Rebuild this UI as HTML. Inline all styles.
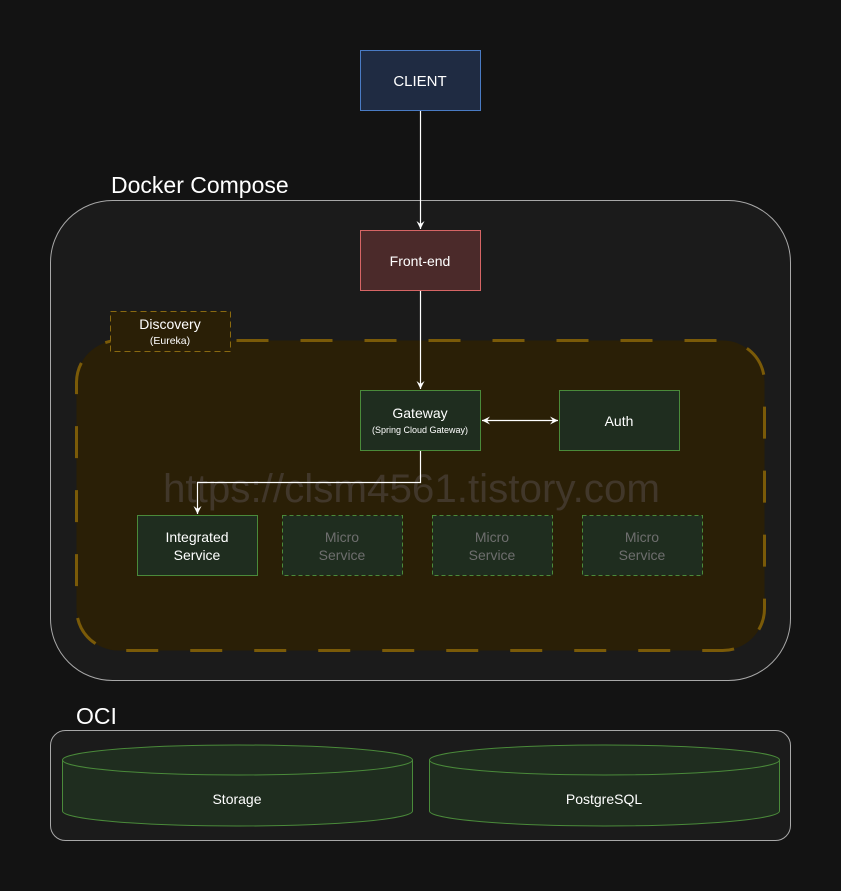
<!DOCTYPE html>
<html><head><meta charset="utf-8"><style>
html,body{margin:0;padding:0;background:#131313;}
svg{display:block;font-family:"Liberation Sans",Arial,sans-serif;}
</style></head><body>
<svg width="841" height="891" viewBox="0 0 841 891" xmlns="http://www.w3.org/2000/svg">
<defs>
<marker id="ah" markerWidth="10" markerHeight="10" refX="8" refY="5" orient="auto" markerUnits="userSpaceOnUse">
<path d="M0,1 L8,5 L0,9 L3,5 Z" fill="#fff"/>
</marker>
<marker id="ahs" markerWidth="10" markerHeight="10" refX="0" refY="5" orient="auto" markerUnits="userSpaceOnUse">
<path d="M8,1 L0,5 L8,9 L5,5 Z" fill="#fff"/>
</marker>
</defs>
<rect width="841" height="891" fill="#131313"/>
<text x="111" y="193" font-size="23" fill="#fff">Docker Compose</text>
<rect x="50.5" y="200.5" width="740" height="480" rx="62" fill="#1b1b1b" stroke="#a8a8a8"/>
<rect x="76.5" y="340.5" width="688" height="310" rx="42" fill="#2a1f06" stroke="#7a5a08" stroke-width="3" stroke-dasharray="32 32" stroke-dashoffset="10"/>
<rect x="110.5" y="311.5" width="120" height="40" fill="#2a1f06" stroke="#8a6a10" stroke-dasharray="6 4"/>
<text x="170" y="329" font-size="14" fill="#fff" text-anchor="middle">Discovery</text>
<text x="170" y="344" font-size="10.5" fill="#fff" text-anchor="middle">(Eureka)</text>
<text x="163" y="502" font-size="40" fill="#41372a" textLength="497" lengthAdjust="spacingAndGlyphs">https://clsm4561.tistory.com</text>

<rect x="360.5" y="50.5" width="120" height="60" fill="#1f2b42" stroke="#4a7bc4"/>
<text x="420" y="86" font-size="15" fill="#fff" text-anchor="middle">CLIENT</text>
<rect x="360.5" y="230.5" width="120" height="60" fill="#4b2a2a" stroke="#d66565"/>
<text x="420" y="266" font-size="14" fill="#fff" text-anchor="middle">Front-end</text>
<rect x="360.5" y="390.5" width="120" height="60" fill="#1f2d1f" stroke="#4a8a3a"/>
<text x="420" y="418" font-size="14" fill="#fff" text-anchor="middle">Gateway</text>
<text x="420" y="433" font-size="9" fill="#fff" text-anchor="middle">(Spring Cloud Gateway)</text>
<rect x="559.5" y="390.5" width="120" height="60" fill="#1f2d1f" stroke="#4a8a3a"/>
<text x="619" y="426" font-size="14" fill="#fff" text-anchor="middle">Auth</text>
<rect x="137.5" y="515.5" width="120" height="60" fill="#1f2d1f" stroke="#4a8a3a"/>
<text x="197" y="542" font-size="14" fill="#fff" text-anchor="middle">Integrated</text>
<text x="197" y="560" font-size="14" fill="#fff" text-anchor="middle">Service</text>
<g fill="#1f2d1f" stroke="#4a8a3a" stroke-dasharray="4 3">
<rect x="282.5" y="515.5" width="120" height="60"/>
<rect x="432.5" y="515.5" width="120" height="60"/>
<rect x="582.5" y="515.5" width="120" height="60"/>
</g>
<g font-size="14" fill="#6e6e6e" text-anchor="middle">
<text x="342" y="542">Micro</text><text x="342" y="560">Service</text>
<text x="492" y="542">Micro</text><text x="492" y="560">Service</text>
<text x="642" y="542">Micro</text><text x="642" y="560">Service</text>
</g>
<g stroke="#fff" stroke-width="1.2" fill="none">
<path d="M420.5 111 V229" marker-end="url(#ah)"/>
<path d="M420.5 291 V389" marker-end="url(#ah)"/>
<path d="M482 420.5 H558" marker-end="url(#ah)" marker-start="url(#ahs)"/>
<path d="M420.5 451 V482.5 H197.5 V514" marker-end="url(#ah)"/>
</g>

<text x="76" y="724" font-size="23" fill="#fff">OCI</text>
<rect x="50.5" y="730.5" width="740" height="110" rx="15" fill="#1b1b1b" stroke="#a8a8a8"/>
<g fill="#1f2d1f" stroke="#4a8a3a">
<path d="M62.5 760 V811 A175 15 0 0 0 412.5 811 V760"/>
<ellipse cx="237.5" cy="760" rx="175" ry="15"/>
<path d="M429.5 760 V811 A175 15 0 0 0 779.5 811 V760"/>
<ellipse cx="604.5" cy="760" rx="175" ry="15"/>
</g>
<text x="237" y="804" font-size="14" fill="#fff" text-anchor="middle">Storage</text>
<text x="604" y="804" font-size="14" fill="#fff" text-anchor="middle">PostgreSQL</text>
</svg>
</body></html>
